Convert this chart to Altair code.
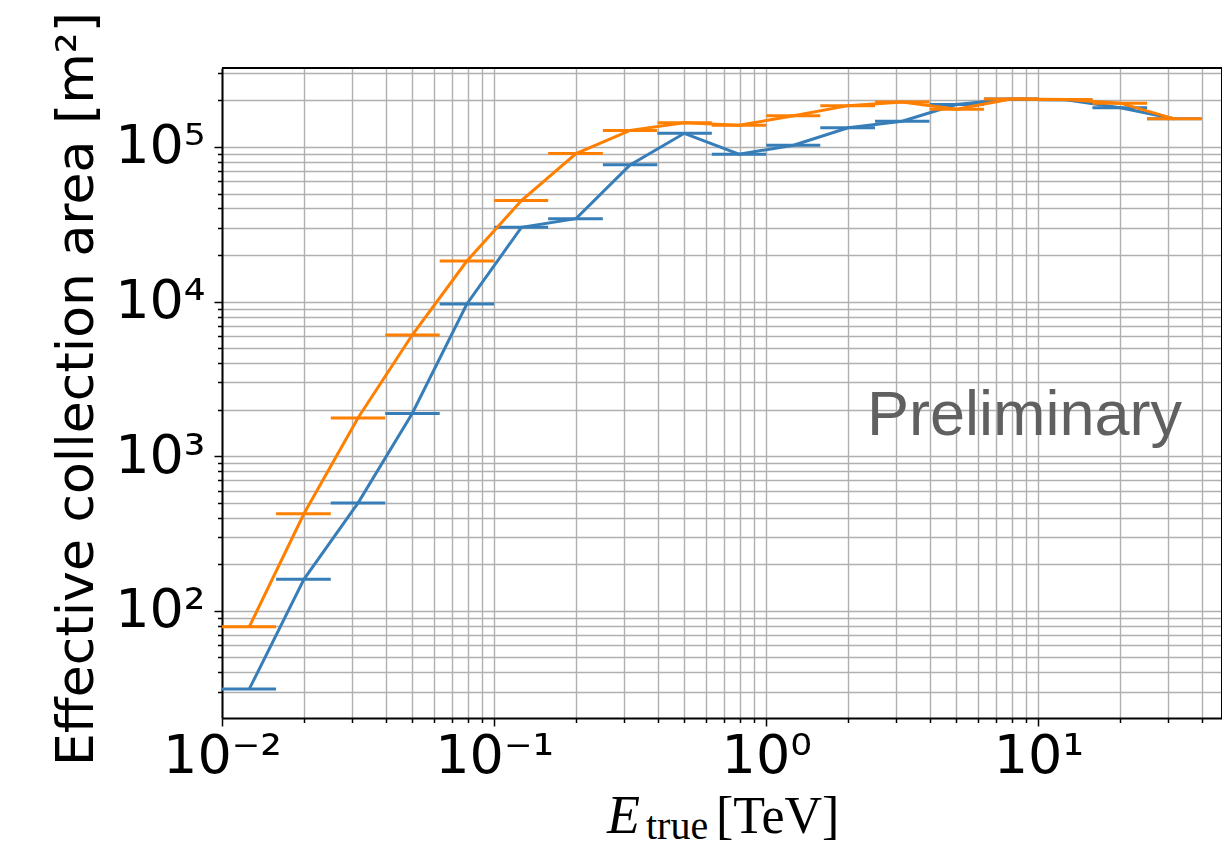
import altair as alt
import pandas as pd

# Bin edges / centers (TeV)
bin_lo = [0.01, 0.0158, 0.0251, 0.0398, 0.0631, 0.1, 0.158, 0.251, 0.398, 0.631,
          1.0, 1.58, 2.51, 3.98, 6.31, 10.0, 15.8, 25.1]
bin_hi = [0.0158, 0.0251, 0.0398, 0.0631, 0.1, 0.158, 0.251, 0.398, 0.631, 1.0,
          1.58, 2.51, 3.98, 6.31, 10.0, 15.8, 25.1, 39.8]
bin_c = [0.0126, 0.02, 0.0316, 0.05, 0.0794, 0.126, 0.2, 0.316, 0.5, 0.794,
         1.26, 2.0, 3.16, 5.0, 7.94, 12.6, 20.0, 31.6]

area_blue = [31.3, 160, 498, 1890, 9650, 30200, 34400, 76600, 122500, 89800,
             102600, 133000, 146800, 188000, 204000, 202000, 179000, 152000]
area_orange = [79, 425, 1770, 6080, 18300, 45000, 90600, 128000, 143600, 138000,
               159000, 185000, 195000, 175500, 204000, 203000, 192000, 152000]

series_names = ["blue", "orange"]
series_colors = ["#377eb8", "#ff7f00"]

x_major = [0.01, 0.1, 1, 10]
x_major_labels = ["10⁻²", "10⁻¹", "10⁰", "10¹"]
x_minor = [0.02, 0.03, 0.04, 0.05, 0.06, 0.07, 0.08, 0.09,
           0.2, 0.3, 0.4, 0.5, 0.6, 0.7, 0.8, 0.9,
           2, 3, 4, 5, 6, 7, 8, 9, 20, 30, 40]
y_major = [100, 1000, 10000, 100000]
y_major_labels = ["10²", "10³", "10⁴", "10⁵"]
y_minor = [30, 40, 50, 60, 70, 80, 90,
           200, 300, 400, 500, 600, 700, 800, 900,
           2000, 3000, 4000, 5000, 6000, 7000, 8000, 9000,
           20000, 30000, 40000, 50000, 60000, 70000, 80000, 90000,
           200000, 300000]

x_domain = [0.01, 47.3]
y_domain = [20.3, 324000]

W, H = 1000, 650

rows = []
for name, vals in zip(series_names, [area_blue, area_orange]):
    for lo, hi, c, v in zip(bin_lo, bin_hi, bin_c, vals):
        rows.append({"series": name, "lo": lo, "hi": hi, "c": c, "v": v})
df = pd.DataFrame(rows)


def label_expr(vals, labels):
    expr = "''"
    for v, l in reversed(list(zip(vals, labels))):
        expr = f"abs(datum.value - {v}) < {v}*1e-6 ? '{l}' : " + expr
    return expr


major_test = "abs(log(datum.value)/LN10 - round(log(datum.value)/LN10)) < 0.001"

common_axis = dict(
    grid=True, gridColor="#b0b0b0", gridWidth=1.4,
    domain=True, domainColor="black", domainWidth=2,
    tickColor="black", tickWidth=1.5,
    tickSize={"condition": {"test": major_test, "value": 8}, "value": 4.5},
    labelFont="DejaVu Sans", labelFontSize=54, labelColor="black",
    labelOverlap=False, title=None,
)

x_axis = alt.Axis(values=x_major + x_minor, labelExpr=label_expr(x_major, x_major_labels),
                  labelFlush=False, labelPadding=3, labelBaseline="top", **common_axis)
y_axis = alt.Axis(values=y_major + y_minor, labelExpr=label_expr(y_major, y_major_labels),
                  labelPadding=9, **common_axis)

xs = alt.Scale(type="log", domain=x_domain, nice=False, zero=False)
ys = alt.Scale(type="log", domain=y_domain, nice=False, zero=False)
color = alt.Color("series:N", scale=alt.Scale(domain=series_names, range=series_colors), legend=None)

layers = []
for name in series_names:
    sub = df[df.series == name]
    base = alt.Chart(sub)
    bars = base.mark_rule(strokeWidth=3, strokeCap="butt").encode(
        x=alt.X("lo:Q", scale=xs, axis=x_axis), x2="hi:Q",
        y=alt.Y("v:Q", scale=ys, axis=y_axis), color=color)
    line = base.mark_line(strokeWidth=3).encode(
        x=alt.X("c:Q", scale=xs, axis=x_axis),
        y=alt.Y("v:Q", scale=ys, axis=y_axis), color=color)
    layers += [bars, line]

one = alt.Data(values=[{"a": 1}])

# plot frame: top and right spines
frame_top = alt.Chart(one).mark_rule(color="black", strokeWidth=2).encode(
    x=alt.value(0), x2=alt.value(W), y=alt.value(0))
frame_right = alt.Chart(one).mark_rule(color="black", strokeWidth=2).encode(
    x=alt.value(W), y=alt.value(0), y2=alt.value(H))

prelim = alt.Chart(one).mark_text(
    text="Preliminary", font="Liberation Sans", fontSize=63, color="#606060",
    align="left", baseline="alphabetic").encode(x=alt.value(645), y=alt.value(367))

xt_E = alt.Chart(one).mark_text(
    text="E", font="Liberation Serif", fontStyle="italic", fontSize=54, color="black",
    align="left", baseline="alphabetic").encode(x=alt.value(385), y=alt.value(765))
xt_sub = alt.Chart(one).mark_text(
    text="true", font="Liberation Serif", fontSize=40, color="black",
    align="left", baseline="alphabetic").encode(x=alt.value(424), y=alt.value(771))
xt_unit = alt.Chart(one).mark_text(
    text="[TeV]", font="Liberation Serif", fontSize=52, color="black",
    align="left", baseline="alphabetic").encode(x=alt.value(494), y=alt.value(765))

ytitle = alt.Chart(one).mark_text(
    text="Effective collection area [m²]", font="DejaVu Sans", fontSize=52, color="black",
    align="center", baseline="alphabetic", angle=270).encode(x=alt.value(93 - 222), y=alt.value(321))

chart = alt.layer(*layers, frame_top, frame_right, prelim, xt_E, xt_sub, xt_unit, ytitle).properties(
    width=W, height=H,
    autosize=alt.AutoSizeParams(type="none"),
    padding={"left": 214, "top": 60, "right": 0, "bottom": 134},
).configure_view(stroke="black", strokeWidth=2).configure(background="white")

chart.save("out.html", embed_options={"renderer": "svg", "actions": False})
